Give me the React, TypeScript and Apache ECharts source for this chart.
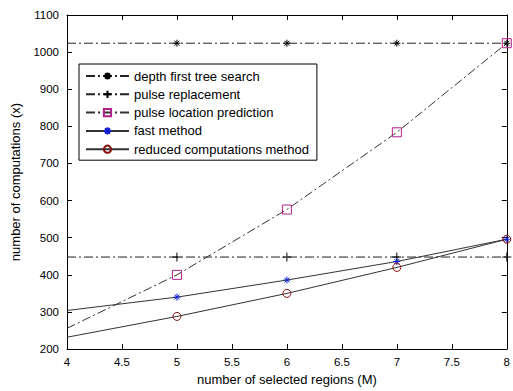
import React, { useEffect, useRef } from "react";
import * as echarts from "echarts";

const regions = [4, 5, 6, 7, 8];
const depthFirst = [1024, 1024, 1024, 1024, 1024];
const pulseReplacement = [448, 448, 448, 448, 448];
const pulseLocation = [256, 400, 576, 784, 1024];
const fastMethod = [304, 340, 386, 436, 496];
const reducedMethod = [232, 288, 350, 420, 496];

const seriesNames = [
  "depth first tree search",
  "pulse replacement",
  "pulse location prediction",
  "fast method",
  "reduced computations method",
];

const ASTERISK = "path://M5,0L5,10M0,5L10,5M1.5,1.5L8.5,8.5M8.5,1.5L1.5,8.5";
const PLUS = "path://M5,0L5,10M0,5L10,5";
const DASHDOT = [9, 3, 2, 3];
const FONT = "Liberation Sans, Arial, sans-serif";

function pts(vals: number[]) {
  return regions.map((x, i) =>
    i === 0 ? { value: [x, vals[i]], symbol: "none" } : { value: [x, vals[i]] }
  );
}

export default function App() {
  const ref = useRef<HTMLDivElement>(null);
  useEffect(() => {
    if (!ref.current) return;
    const chart = echarts.init(ref.current, null, { renderer: "svg" });
    const axisCommon = {
      axisLine: { show: true, lineStyle: { color: "#000", width: 1 } },
      axisTick: { show: true, inside: true, length: 5, lineStyle: { color: "#000" } },
      splitLine: { show: false },
    };
    const tickLabel = { fontFamily: FONT, fontSize: 11.5, color: "#000" };
    chart.setOption({
      animation: false,
      backgroundColor: "#fff",
      grid: { left: 67, right: 2, top: 15, bottom: 37 },
      legend: {
        orient: "vertical",
        left: 79,
        top: 64,
        data: seriesNames,
        itemWidth: 43,
        itemHeight: 9,
        itemGap: 4.3,
        padding: [5, 8, 4, 6],
        borderColor: "#000",
        borderWidth: 1,
        borderRadius: 0,
        backgroundColor: "#fff",
        textStyle: { fontFamily: FONT, fontSize: 13, color: "#000", lineHeight: 14 },
      },
      xAxis: [
        {
          type: "value",
          min: 4,
          max: 8,
          interval: 0.5,
          position: "bottom",
          name: "number of selected regions (M)",
          nameLocation: "middle",
          nameGap: 23,
          nameTextStyle: { fontFamily: FONT, fontSize: 13, color: "#000" },
          axisLabel: { ...tickLabel, margin: 7 },
          ...axisCommon,
        },
        {
          type: "value",
          min: 4,
          max: 8,
          interval: 0.5,
          position: "top",
          axisLabel: { show: false },
          ...axisCommon,
        },
      ],
      yAxis: [
        {
          type: "value",
          min: 200,
          max: 1100,
          interval: 100,
          position: "left",
          name: "number of computations (x)",
          nameLocation: "middle",
          nameGap: 45,
          nameTextStyle: { fontFamily: FONT, fontSize: 13, color: "#000" },
          axisLabel: { ...tickLabel, margin: 8, formatter: (v: number) => String(v) },
          ...axisCommon,
        },
        {
          type: "value",
          min: 200,
          max: 1100,
          interval: 100,
          position: "right",
          axisLabel: { show: false },
          ...axisCommon,
        },
      ],
      series: [
        {
          name: seriesNames[0],
          type: "line",
          data: pts(depthFirst),
          symbol: ASTERISK,
          symbolSize: 7,
          lineStyle: { color: "#222", width: 1, type: DASHDOT },
          itemStyle: { color: "rgba(0,0,0,0)", borderColor: "#000", borderWidth: 1 },
        },
        {
          name: seriesNames[1],
          type: "line",
          data: pts(pulseReplacement),
          symbol: PLUS,
          symbolSize: 9,
          lineStyle: { color: "#222", width: 1, type: DASHDOT },
          itemStyle: { color: "rgba(0,0,0,0)", borderColor: "#000", borderWidth: 1 },
        },
        {
          name: seriesNames[2],
          type: "line",
          data: pts(pulseLocation),
          symbol: "rect",
          symbolSize: 9,
          lineStyle: { color: "#333", width: 1, type: DASHDOT },
          itemStyle: { color: "rgba(0,0,0,0)", borderColor: "#b0208a", borderWidth: 1 },
        },
        {
          name: seriesNames[3],
          type: "line",
          data: pts(fastMethod),
          symbol: ASTERISK,
          symbolSize: 7,
          lineStyle: { color: "#333", width: 1 },
          itemStyle: { color: "rgba(0,0,0,0)", borderColor: "#1020d0", borderWidth: 1 },
        },
        {
          name: seriesNames[4],
          type: "line",
          data: pts(reducedMethod),
          symbol: "circle",
          symbolSize: 8,
          lineStyle: { color: "#333", width: 1 },
          itemStyle: { color: "rgba(0,0,0,0)", borderColor: "#8a1010", borderWidth: 1 },
        },
      ],
    });
    return () => chart.dispose();
  }, []);
  return <div ref={ref} style={{ width: 513, height: 391, position: "absolute", left: 0, top: 0 }} />;
}
